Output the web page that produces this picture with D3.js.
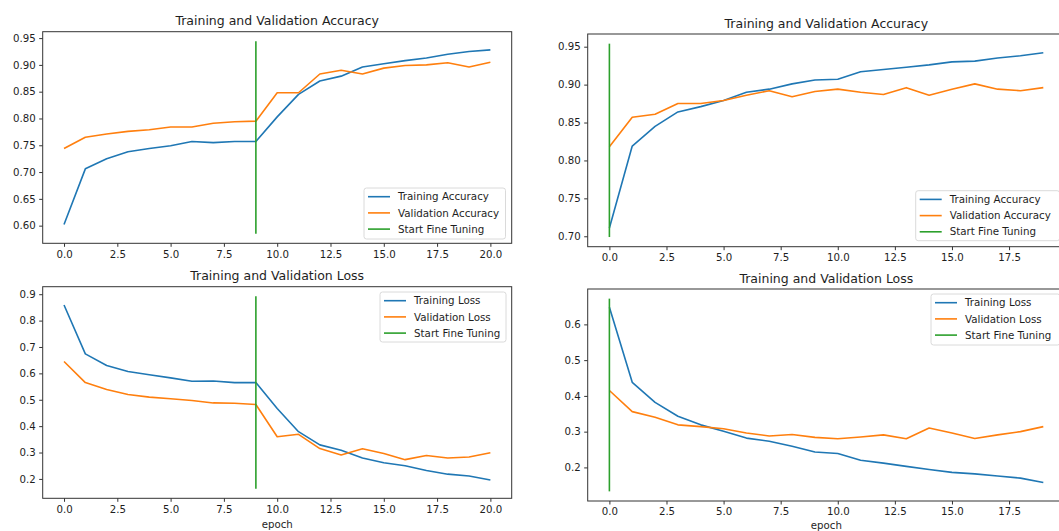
<!DOCTYPE html>
<html>
<head>
<meta charset="utf-8">
<script src="https://cdn.jsdelivr.net/npm/d3@7"></script>
<style>
  html, body { margin: 0; padding: 0; background: #fff; overflow: hidden; }
  svg { display: block; font-family: "DejaVu Sans", sans-serif; }
</style>
</head>
<body>
<svg id="chart" width="1059" height="531"></svg>
<script>
// ---------- data ----------
// Left figure: 21 epochs (0..20), fine tuning starts at epoch 9
const epochsLeft = d3.range(0, 21);
const leftTrainAcc = [0.602, 0.706, 0.725, 0.738, 0.744, 0.749, 0.757, 0.755, 0.757, 0.757, 0.803,
                      0.845, 0.870, 0.879, 0.896, 0.902, 0.908, 0.913, 0.920, 0.925, 0.928];
const leftValAcc   = [0.744, 0.765, 0.771, 0.776, 0.779, 0.784, 0.784, 0.791, 0.794, 0.795, 0.848,
                      0.848, 0.883, 0.890, 0.883, 0.894, 0.899, 0.900, 0.904, 0.896, 0.905];
const leftTrainLoss = [0.859, 0.674, 0.630, 0.607, 0.595, 0.583, 0.570, 0.571, 0.565, 0.565, 0.467,
                       0.379, 0.329, 0.309, 0.279, 0.261, 0.250, 0.232, 0.218, 0.211, 0.196];
const leftValLoss   = [0.645, 0.565, 0.539, 0.520, 0.510, 0.504, 0.497, 0.488, 0.487, 0.482, 0.360,
                       0.369, 0.315, 0.291, 0.314, 0.296, 0.273, 0.289, 0.279, 0.283, 0.299];
const leftFineEpoch = 9;
const leftAccFineLim = [0.585, 0.944];
const leftLossFineLim = [0.163, 0.892];

// Right figure: 20 epochs (0..19), fine tuning starts at epoch 0
const epochsRight = d3.range(0, 20);
const rightTrainAcc = [0.711, 0.819, 0.845, 0.864, 0.871, 0.879, 0.890, 0.894, 0.901, 0.906,
                       0.907, 0.917, 0.920, 0.923, 0.926, 0.930, 0.931, 0.935, 0.938, 0.942];
const rightValAcc   = [0.818, 0.857, 0.861, 0.875, 0.875, 0.879, 0.886, 0.892, 0.884, 0.891,
                       0.894, 0.890, 0.887, 0.896, 0.886, 0.894, 0.901, 0.894, 0.892, 0.896];
const rightTrainLoss = [0.648, 0.438, 0.382, 0.343, 0.319, 0.301, 0.282, 0.273, 0.259, 0.243,
                        0.239, 0.220, 0.212, 0.203, 0.194, 0.186, 0.182, 0.176, 0.170, 0.158];
const rightValLoss   = [0.415, 0.356, 0.340, 0.319, 0.314, 0.308, 0.296, 0.288, 0.292, 0.284,
                        0.280, 0.285, 0.291, 0.280, 0.310, 0.296, 0.281, 0.291, 0.300, 0.314];
const rightFineEpoch = 0;
const rightAccFineLim = [0.699, 0.954];
const rightLossFineLim = [0.133, 0.672];

// tick labels
const xTicksLeft = [0, 2.5, 5, 7.5, 10, 12.5, 15, 17.5, 20];
const xTicksRight = [0, 2.5, 5, 7.5, 10, 12.5, 15, 17.5];
const yTicksLeftAcc = [0.60, 0.65, 0.70, 0.75, 0.80, 0.85, 0.90, 0.95];
const yTicksLeftLoss = [0.2, 0.3, 0.4, 0.5, 0.6, 0.7, 0.8, 0.9];
const yTicksRightAcc = [0.70, 0.75, 0.80, 0.85, 0.90, 0.95];
const yTicksRightLoss = [0.2, 0.3, 0.4, 0.5, 0.6];

const accLabels = ["Training Accuracy", "Validation Accuracy", "Start Fine Tuning"];
const lossLabels = ["Training Loss", "Validation Loss", "Start Fine Tuning"];
const accTitle = "Training and Validation Accuracy";
const lossTitle = "Training and Validation Loss";
const xLabel = "epoch";

// ---------- styling ----------
const C_BLUE = "#1f77b4", C_ORANGE = "#ff7f0e", C_GREEN = "#2ca02c";
const TXT = "#1e1e1e";

const svg = d3.select("#chart");

function pad(ext) {
  const r = ext[1] - ext[0];
  return [ext[0] - 0.05 * r, ext[1] + 0.05 * r];
}

function panel(cfg) {
  const { box, epochs, train, val, fineEpoch, fineLim, yTicks, xTicks, yFmt, title, labels, legend, showXLabel, xLabelY, titleY } = cfg;
  const x = d3.scaleLinear().domain(pad(d3.extent(epochs))).range([box.left, box.right]);
  const y = d3.scaleLinear().domain(pad(fineLim)).range([box.bottom, box.top]);
  const g = svg.append("g");

  const line = d3.line().x((d, i) => x(epochs[i])).y(d => y(d));

  // series
  g.append("path").datum(train).attr("d", line)
    .attr("fill", "none").attr("stroke", C_BLUE).attr("stroke-width", 1.6).attr("stroke-linejoin", "round");
  g.append("path").datum(val).attr("d", line)
    .attr("fill", "none").attr("stroke", C_ORANGE).attr("stroke-width", 1.6).attr("stroke-linejoin", "round");
  g.append("line")
    .attr("x1", x(fineEpoch)).attr("x2", x(fineEpoch))
    .attr("y1", y(fineLim[0])).attr("y2", y(fineLim[1]))
    .attr("stroke", C_GREEN).attr("stroke-width", 1.6);

  // axes
  const xAxis = d3.axisBottom(x).tickValues(xTicks).tickFormat(d3.format(".1f"))
    .tickSizeInner(3.5).tickSizeOuter(0).tickPadding(3.5);
  const yAxis = d3.axisLeft(y).tickValues(yTicks).tickFormat(d3.format(yFmt))
    .tickSizeInner(3.5).tickSizeOuter(0).tickPadding(3.5);
  const gx = g.append("g").attr("transform", `translate(0,${box.bottom})`).call(xAxis);
  const gy = g.append("g").attr("transform", `translate(${box.left},0)`).call(yAxis);
  [gx, gy].forEach(a => {
    a.select(".domain").remove();
    a.selectAll(".tick line").attr("stroke", "#333").attr("stroke-width", 1);
    a.selectAll(".tick text").attr("fill", TXT).attr("font-size", 10.2)
      .attr("font-family", "DejaVu Sans, sans-serif");
  });

  // spines
  g.append("rect").attr("x", box.left).attr("y", box.top)
    .attr("width", box.right - box.left).attr("height", box.bottom - box.top)
    .attr("fill", "none").attr("stroke", "#333").attr("stroke-width", 1);

  // title
  g.append("text").attr("x", (box.left + box.right) / 2).attr("y", titleY)
    .attr("text-anchor", "middle").attr("font-size", 12.5).attr("fill", TXT).text(title);

  if (showXLabel) {
    g.append("text").attr("x", (box.left + box.right) / 2).attr("y", xLabelY)
      .attr("text-anchor", "middle").attr("font-size", 10.2).attr("fill", TXT).text(xLabel);
  }

  // legend
  const lg = g.append("g");
  lg.append("rect").attr("x", legend.x).attr("y", legend.y).attr("width", legend.w).attr("height", legend.h)
    .attr("rx", 2.5).attr("fill", "#fff").attr("fill-opacity", 0.8)
    .attr("stroke", "#d0d0d0").attr("stroke-width", 0.8);
  const cols = [C_BLUE, C_ORANGE, C_GREEN];
  labels.forEach((lab, i) => {
    const cy = legend.y + 8.7 + i * 16.2;
    lg.append("line").attr("x1", legend.x + 4).attr("x2", legend.x + 26)
      .attr("y1", cy).attr("y2", cy).attr("stroke", cols[i]).attr("stroke-width", 1.6);
    lg.append("text").attr("x", legend.x + 34).attr("y", cy).attr("dy", "0.35em")
      .attr("font-size", 10.3).attr("fill", TXT).text(lab);
  });
}

panel({
  box: { left: 42.7, top: 31.7, right: 511.7, bottom: 243.3 },
  epochs: epochsLeft, train: leftTrainAcc, val: leftValAcc,
  fineEpoch: leftFineEpoch, fineLim: leftAccFineLim,
  yTicks: yTicksLeftAcc, xTicks: xTicksLeft, yFmt: ".2f",
  title: accTitle, titleY: 25, labels: accLabels,
  legend: { x: 364, y: 188, w: 141.5, h: 51 }, showXLabel: false
});
panel({
  box: { left: 42.7, top: 286.7, right: 511.7, bottom: 498.3 },
  epochs: epochsLeft, train: leftTrainLoss, val: leftValLoss,
  fineEpoch: leftFineEpoch, fineLim: leftLossFineLim,
  yTicks: yTicksLeftLoss, xTicks: xTicksLeft, yFmt: ".1f",
  title: lossTitle, titleY: 280, labels: lossLabels,
  legend: { x: 380, y: 292, w: 126, h: 50 }, showXLabel: true, xLabelY: 528
});
panel({
  box: { left: 587.7, top: 34, right: 1065, bottom: 246.7 },
  epochs: epochsRight, train: rightTrainAcc, val: rightValAcc,
  fineEpoch: rightFineEpoch, fineLim: rightAccFineLim,
  yTicks: yTicksRightAcc, xTicks: xTicksRight, yFmt: ".2f",
  title: accTitle, titleY: 27.5, labels: accLabels,
  legend: { x: 915.7, y: 190.7, w: 144, h: 50 }, showXLabel: false
});
panel({
  box: { left: 587.7, top: 289, right: 1065, bottom: 501 },
  epochs: epochsRight, train: rightTrainLoss, val: rightValLoss,
  fineEpoch: rightFineEpoch, fineLim: rightLossFineLim,
  yTicks: yTicksRightLoss, xTicks: xTicksRight, yFmt: ".1f",
  title: lossTitle, titleY: 282.5, labels: lossLabels,
  legend: { x: 931, y: 294, w: 129, h: 51 }, showXLabel: true, xLabelY: 528.5
});
</script>
</body>
</html>
